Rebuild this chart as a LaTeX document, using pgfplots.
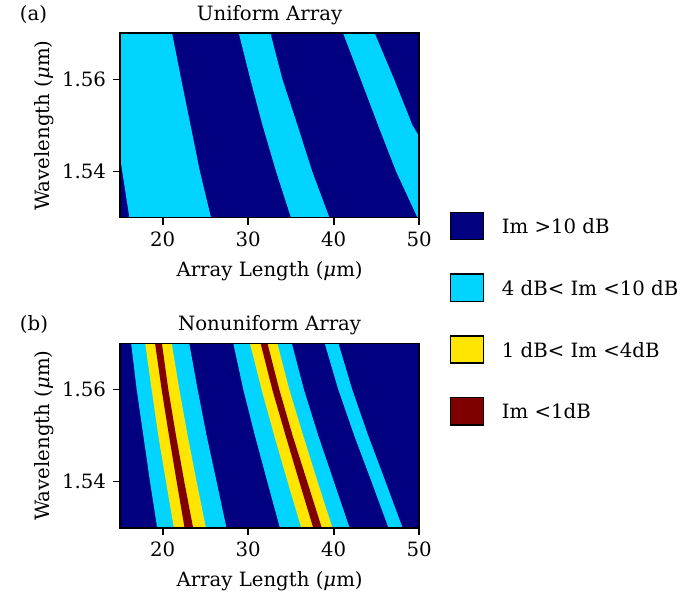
\documentclass[border=0pt]{standalone}
\usepackage{pgfplots}
\pgfplotsset{compat=1.18}
\usepackage{fontspec}
\setmainfont{DejaVu Serif}

\definecolor{cnavy}{RGB}{0,0,128}
\definecolor{ccyan}{RGB}{0,212,255}
\definecolor{cyell}{RGB}{255,229,0}
\definecolor{cdred}{RGB}{128,0,0}

\pgfplotsset{
  panel/.style={
    scale only axis, width=151.7pt, height=93.5pt,
    xmin=15, xmax=50, ymin=1.53, ymax=1.57,
    xtick={20,30,40,50}, ytick={1.54,1.56},
    tick align=outside, xtick pos=bottom, ytick pos=left,
    major tick length=3.55pt,
    every tick/.append style={line width=0.8pt, black},
    axis line style={line width=0.8pt},
    /pgf/number format/assume math mode=true,
    yticklabel style={/pgf/number format/.cd, fixed, fixed zerofill, precision=2},
    axis on top, clip=false,
    xlabel={Array Length (\textit{μ}m)},
    ylabel={Wavelength (\textit{μ}m)},
    xlabel style={at={(rel axis cs:0.5,-0.320)}, anchor=base},
    ylabel style={at={(rel axis cs:-0.2362,0.5)}, anchor=base},
  },
  band/.style={draw=none, fill=#1, forget plot},
  legbox/.style={legend image code/.code={
    \draw[##1, draw=black, line width=0.8pt] (0pt,-6.0pt) rectangle (16.9pt,7.8pt);}},
}

\begin{document}
\begin{tikzpicture}
\path[use as bounding box] (-60.84pt,-191.8pt) rectangle (287.98pt,110.37pt);

% (a) uniform array
\begin{axis}[panel, at={(0pt,0pt)}, anchor=south west,
  legend style={at={(1.1002,0.0353)}, anchor=north west, draw=none, fill=none,
    inner sep=0pt, row sep=16.7pt, column sep=8.8pt,
    nodes={inner sep=0pt}},
  legend cell align=left]
\addplot[band=cnavy] coordinates {(15,1.53) (50,1.53) (50,1.57) (15,1.57)} -- cycle;
\addplot[band=ccyan] coordinates {
  (15,1.57) (21.1,1.57) (22.16,1.56) (23.26,1.55) (24.35,1.54) (25.65,1.53)
  (16.1,1.53) (15,1.5432)} -- cycle;
\addplot[band=ccyan] coordinates {
  (28.9,1.57) (30.25,1.56) (31.68,1.55) (33.26,1.54) (35.0,1.53)
  (39.5,1.53) (37.49,1.54) (35.77,1.55) (34.0,1.56) (32.6,1.57)} -- cycle;
\addplot[band=ccyan] coordinates {
  (41.1,1.57) (43.16,1.56) (45.2,1.55) (47.3,1.54) (49.8,1.53) (50,1.53)
  (50,1.5476) (49.22,1.55) (47.07,1.56) (44.8,1.57)} -- cycle;
\node[anchor=base west] at (rel axis cs:-0.3575,1.0694) {(a)};
\node[anchor=base] at (rel axis cs:0.5,1.0694) {Uniform Array};
\addlegendimage{legbox, fill=cnavy}
\addlegendentry{Im >10 dB}
\addlegendimage{legbox, fill=ccyan}
\addlegendentry{4 dB< Im <10 dB}
\addlegendimage{legbox, fill=cyell}
\addlegendentry{1 dB< Im <4dB}
\addlegendimage{legbox, fill=cdred}
\addlegendentry{Im <1dB}
\end{axis}

% (b) nonuniform array
\begin{axis}[panel, at={(0pt,-157.2pt)}, anchor=south west]
\addplot[band=cnavy] coordinates {(15,1.53) (50,1.53) (50,1.57) (15,1.57)} -- cycle;
% group 1
\addplot[band=ccyan] coordinates {
  (16.3,1.57) (16.95,1.56) (17.73,1.55) (18.51,1.54) (19.35,1.53)
  (27.45,1.53) (26.30,1.54) (25.13,1.55) (24.08,1.56) (23.1,1.57)} -- cycle;
\addplot[band=cyell] coordinates {
  (17.95,1.57) (18.70,1.56) (19.48,1.55) (20.38,1.54) (21.3,1.53)
  (25.05,1.53) (23.96,1.54) (22.91,1.55) (21.94,1.56) (21.05,1.57)} -- cycle;
\addplot[band=cdred] coordinates {
  (19.1,1.57) (19.87,1.56) (20.73,1.55) (21.63,1.54) (22.55,1.53)
  (23.55,1.53) (22.52,1.54) (21.55,1.55) (20.65,1.56) (19.9,1.57)} -- cycle;
% group 2
\addplot[band=ccyan] coordinates {
  (28.25,1.57) (29.42,1.56) (30.78,1.55) (32.23,1.54) (33.7,1.53)
  (41.85,1.53) (40.02,1.54) (38.19,1.55) (36.51,1.56) (35.1,1.57)} -- cycle;
\addplot[band=cyell] coordinates {
  (30.2,1.57) (31.56,1.56) (33.04,1.55) (34.60,1.54) (36.2,1.53)
  (39.85,1.53) (38.11,1.54) (36.43,1.55) (34.80,1.56) (33.4,1.57)} -- cycle;
\addplot[band=cdred] coordinates {
  (31.45,1.57) (32.81,1.56) (34.37,1.55) (35.97,1.54) (37.6,1.53)
  (38.6,1.53) (36.90,1.54) (35.19,1.55) (33.63,1.56) (32.25,1.57)} -- cycle;
% group 3
\addplot[band=ccyan] coordinates {
  (38.95,1.57) (40.53,1.56) (42.40,1.55) (44.42,1.54) (46.4,1.53)
  (48.05,1.53) (46.06,1.54) (44.03,1.55) (42.16,1.56) (40.55,1.57)} -- cycle;
\node[anchor=base west] at (rel axis cs:-0.3575,1.0694) {(b)};
\node[anchor=base] at (rel axis cs:0.5,1.0694) {Nonuniform Array};
\end{axis}
\end{tikzpicture}
\end{document}
